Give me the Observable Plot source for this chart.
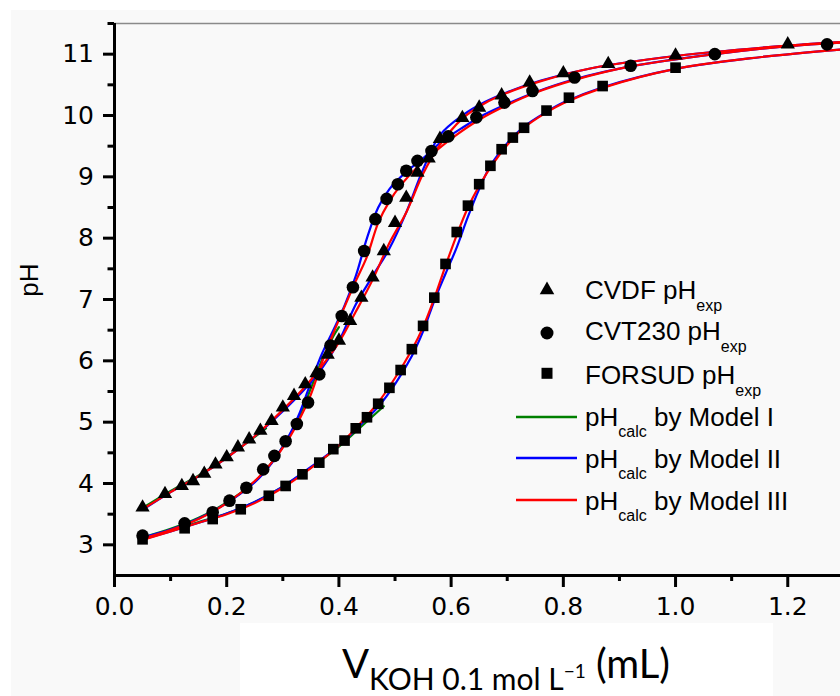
<!DOCTYPE html>
<html><head><meta charset="utf-8">
<script src="https://cdn.jsdelivr.net/npm/d3@7"></script>
<script src="https://cdn.jsdelivr.net/npm/@observablehq/plot@0.6"></script>
<style>
html,body{margin:0;padding:0;background:#fff;}
#wrap{position:relative;width:840px;height:696px;overflow:hidden;background:#fff;}
#bg{position:absolute;left:11px;top:10px;width:829px;height:686px;background:#f9f9f9;}
#xbox{position:absolute;left:240px;top:623px;width:533px;height:73px;background:#fff;}
#plot{position:absolute;left:0;top:0;}
#over{position:absolute;left:0;top:0;}
</style></head><body>
<div id="wrap">
<div id="bg"></div><div id="xbox"></div><div id="plot"></div>
<svg id="over" width="840" height="696" xmlns="http://www.w3.org/2000/svg">
  <text transform="translate(37.5,280) rotate(-90)" text-anchor="middle" font-family="Liberation Sans, Arial, sans-serif" font-size="26" fill="#000">pH</text>
  <text x="506" y="678" text-anchor="middle" font-family="Lato, sans-serif" fill="#000"><tspan font-size="40">V</tspan><tspan font-size="30" dy="12">KOH 0.1 mol L</tspan><tspan font-size="19" dy="-12">−1</tspan><tspan font-size="40" dy="0"> (mL)</tspan></text>
  <g id="legend" font-family="Liberation Sans, Arial, sans-serif" font-size="26" fill="#000"></g>
</svg>
</div>
<script>
// ---------- experimental data ----------
const cvdfX = [0.05,0.09,0.12,0.14,0.16,0.18,0.20,0.22,0.24,0.26,0.28,0.30,0.32,0.34,0.36,0.38,0.40,0.42,0.44,0.46,0.48,0.50,0.52,0.54,0.56,0.58,0.62,0.65,0.69,0.74,0.80,0.88,1.00,1.20];
const cvdfY = [3.61,3.83,3.96,4.04,4.16,4.31,4.43,4.59,4.72,4.86,5.02,5.24,5.43,5.62,5.80,6.10,6.33,6.65,7.03,7.36,7.79,8.25,8.66,9.07,9.30,9.62,9.96,10.13,10.33,10.54,10.69,10.84,10.98,11.16];

const cvtX = [0.05,0.125,0.175,0.205,0.235,0.265,0.285,0.305,0.325,0.345,0.365,0.385,0.405,0.425,0.445,0.465,0.485,0.505,0.52,0.54,0.565,0.595,0.645,0.695,0.745,0.82,0.92,1.07,1.27];
const cvtY = [3.15,3.35,3.53,3.72,3.93,4.23,4.45,4.69,4.97,5.32,5.78,6.25,6.73,7.20,7.79,8.31,8.64,8.88,9.10,9.26,9.42,9.66,9.97,10.21,10.40,10.62,10.81,11.00,11.16];

const forX = [0.05,0.125,0.175,0.225,0.275,0.305,0.335,0.365,0.39,0.41,0.43,0.45,0.47,0.49,0.51,0.53,0.55,0.57,0.59,0.61,0.63,0.65,0.67,0.69,0.71,0.73,0.77,0.81,0.87,1.00];
const forY = [3.09,3.27,3.42,3.58,3.80,3.96,4.15,4.34,4.56,4.70,4.90,5.08,5.30,5.56,5.85,6.19,6.57,7.03,7.58,8.10,8.53,8.88,9.18,9.45,9.64,9.80,10.08,10.29,10.48,10.78];

// ---------- model curves ----------
const m1CvdfX = [0.05,0.10,0.15,0.20,0.25,0.27];
const m1CvdfY = [3.60,3.88,4.13,4.43,4.76,4.90];
const m1CvtX = [0.05,0.10,0.15,0.20,0.25,0.28,0.31,0.33,0.35,0.37,0.39,0.40];
const m1CvtY = [3.12,3.26,3.44,3.69,4.03,4.34,4.75,5.10,5.55,6.02,6.40,6.55];
const m1ForX = [0.05,0.10,0.15,0.20,0.25,0.30,0.35,0.40,0.44,0.48];
const m1ForY = [3.10,3.23,3.37,3.51,3.70,3.95,4.26,4.60,4.93,5.26];

const m2CvdfX = [0.05,0.10,0.15,0.20,0.25,0.30,0.34,0.37,0.40,0.43,0.46,0.49,0.52,0.55,0.58,0.62,0.66,0.70,0.76,0.85,1.00,1.20,1.30];
const m2CvdfY = [3.57,3.86,4.12,4.42,4.77,5.18,5.55,5.88,6.32,6.92,7.38,7.83,8.42,9.12,9.68,10.00,10.22,10.38,10.57,10.77,10.97,11.14,11.20];
const m2CvtX = [0.05,0.10,0.15,0.20,0.25,0.28,0.31,0.33,0.35,0.37,0.39,0.41,0.43,0.45,0.47,0.49,0.52,0.55,0.58,0.62,0.66,0.70,0.75,0.82,0.92,1.07,1.20,1.30];
const m2CvtY = [3.12,3.25,3.43,3.68,4.02,4.33,4.76,5.15,5.65,6.12,6.50,6.90,7.38,8.00,8.50,8.80,9.08,9.30,9.55,9.80,10.02,10.19,10.38,10.59,10.80,11.00,11.13,11.19];
const m2ForX = [0.05,0.10,0.15,0.20,0.25,0.30,0.35,0.40,0.44,0.47,0.50,0.53,0.55,0.57,0.59,0.61,0.63,0.65,0.67,0.70,0.73,0.77,0.80,0.87,1.00,1.15,1.30];
const m2ForY = [3.09,3.22,3.36,3.51,3.70,3.95,4.27,4.62,4.97,5.25,5.62,6.08,6.48,6.98,7.42,7.85,8.35,8.80,9.18,9.55,9.82,10.06,10.21,10.46,10.76,10.95,11.08];

const m3CvdfX = [0.05,0.10,0.15,0.20,0.25,0.30,0.34,0.37,0.40,0.43,0.46,0.49,0.52,0.55,0.58,0.62,0.66,0.70,0.76,0.85,1.00,1.20,1.30];
const m3CvdfY = [3.58,3.86,4.12,4.42,4.77,5.20,5.58,5.92,6.30,6.80,7.32,7.92,8.42,9.05,9.52,9.95,10.20,10.37,10.56,10.77,10.97,11.14,11.20];
const m3CvtX = [0.05,0.10,0.15,0.20,0.25,0.28,0.31,0.33,0.35,0.37,0.39,0.41,0.43,0.45,0.47,0.49,0.51,0.54,0.57,0.60,0.65,0.70,0.75,0.82,0.92,1.07,1.20,1.30];
const m3CvtY = [3.10,3.24,3.42,3.68,4.04,4.34,4.72,5.05,5.45,5.98,6.45,6.88,7.30,7.70,8.25,8.60,8.86,9.16,9.40,9.62,9.93,10.17,10.37,10.58,10.80,11.00,11.13,11.19];
const m3ForX = [0.05,0.10,0.15,0.20,0.25,0.30,0.35,0.40,0.44,0.47,0.50,0.53,0.55,0.57,0.59,0.61,0.63,0.65,0.67,0.70,0.73,0.77,0.80,0.87,1.00,1.15,1.30];
const m3ForY = [3.08,3.22,3.36,3.50,3.68,3.93,4.25,4.62,5.00,5.32,5.72,6.18,6.55,7.02,7.55,8.05,8.50,8.85,9.15,9.52,9.80,10.05,10.20,10.45,10.76,10.95,11.08];

// ---------- ticks ----------
const yMajor = [3,4,5,6,7,8,9,10,11];
const yMinor = [3.5,4.5,5.5,6.5,7.5,8.5,9.5,10.5,11.5];
const xMajor = [0,0.2,0.4,0.6,0.8,1.0,1.2];
const xMinor = [0.1,0.3,0.5,0.7,0.9,1.1];

// ---------- legend ----------
const legendItems = ["CVDF pH", "CVT230 pH", "FORSUD pH", "by Model I", "by Model II", "by Model III"];
const colors = {m1: "#008000", m2: "#0000ff", m3: "#ff0000"};

const rec = (xs, ys, name) => xs.map((x, i) => ({x, y: ys[i], name}));
const cvdf = rec(cvdfX, cvdfY, "CVDF");
const cvt = rec(cvtX, cvtY, "CVT230");
const fors = rec(forX, forY, "FORSUD");
const m1 = [...rec(m1CvdfX, m1CvdfY, "a"), ...rec(m1CvtX, m1CvtY, "b"), ...rec(m1ForX, m1ForY, "c")];
const m2 = [...rec(m2CvdfX, m2CvdfY, "a"), ...rec(m2CvtX, m2CvtY, "b"), ...rec(m2ForX, m2ForY, "c")];
const m3 = [...rec(m3CvdfX, m3CvdfY, "a"), ...rec(m3CvtX, m3CvtY, "b"), ...rec(m3ForX, m3ForY, "c")];

const lineOpts = c => ({x: "x", y: "y", z: "name", stroke: c, strokeWidth: 2.2, curve: "catmull-rom", clip: true});

const chart = Plot.plot({
  width: 840, height: 696,
  marginLeft: 114, marginRight: 0, marginTop: 23, marginBottom: 121,
  x: {domain: [0, 1.294], label: null},
  y: {domain: [2.5, 11.5], label: null},
  style: {background: "transparent", fontFamily: "DejaVu Sans, sans-serif", fontSize: "25px", color: "#000", overflow: "visible"},
  marks: [
    Plot.ruleY([11.5], {stroke: "#8a8a8a", strokeWidth: 1.5}),
    Plot.line(m1, lineOpts(colors.m1)),
    Plot.line(m2, lineOpts(colors.m2)),
    Plot.line(m3, lineOpts(colors.m3)),
    Plot.dot(cvdf, {x: "x", y: "y", symbol: "triangle", r: 5.3, fill: "#000"}),
    Plot.dot(cvt, {x: "x", y: "y", symbol: "circle", r: 6.3, fill: "#000"}),
    Plot.dot(fors, {x: "x", y: "y", symbol: "square", r: 6.0, fill: "#000"}),
    Plot.ruleX([0], {stroke: "#000", strokeWidth: 3}),
    Plot.ruleY([2.5], {stroke: "#000", strokeWidth: 3}),
    Plot.axisY(yMajor, {tickSize: 11, tickPadding: 9.5, strokeWidth: 3, label: null, fontSize: 25, tickFormat: d => String(d)}),
    Plot.axisY(yMinor, {tickSize: 6.5, strokeWidth: 3, label: null, tickFormat: () => ""}),
    Plot.axisX(xMajor, {tickSize: 12, tickPadding: 10, strokeWidth: 3, label: null, fontSize: 25, tickFormat: d => d.toFixed(1)}),
    Plot.axisX(xMinor, {tickSize: 6, strokeWidth: 3, label: null, tickFormat: () => ""})
  ]
});
// make the axis ticks heavy, as in the reference
chart.querySelectorAll('g[aria-label$="tick"]').forEach(g => {
  g.setAttribute("stroke-width", 3);
  g.setAttribute("stroke", "#000");
});
document.getElementById("plot").appendChild(chart);

// legend build
const NS = "http://www.w3.org/2000/svg";
const lg = document.getElementById("legend");
function el(tag, attrs, parent) {
  const e = document.createElementNS(NS, tag);
  for (const k in attrs) e.setAttribute(k, attrs[k]);
  (parent || lg).appendChild(e);
  return e;
}
function tspan(parent, text, attrs) {
  const t = el("tspan", attrs || {}, parent);
  t.textContent = text;
  return t;
}
const rowsBase = [299, 340, 384, 426, 468, 510];
el("path", {d: d3.symbol(d3.symbolTriangle, 92)(), transform: "translate(547,290)", fill: "#000"});
el("circle", {cx: 547, cy: 333, r: 6.5, fill: "#000"});
el("rect", {x: 541.5, y: 367.8, width: 11, height: 11, fill: "#000"});
[colors.m1, colors.m2, colors.m3].forEach((c, i) => {
  el("line", {x1: 516, x2: 577, y1: [417, 458, 500][i], y2: [417, 458, 500][i], stroke: c, "stroke-width": 2.5});
});
legendItems.forEach((lab, i) => {
  const t = el("text", {x: 585, y: rowsBase[i]});
  if (i < 3) {
    tspan(t, lab);
    tspan(t, "exp", {"font-size": 16, dy: 12});
  } else {
    tspan(t, "pH");
    tspan(t, "calc", {"font-size": 16, dy: 11});
    tspan(t, " " + lab, {dy: -11});
  }
});
</script>
</body></html>
